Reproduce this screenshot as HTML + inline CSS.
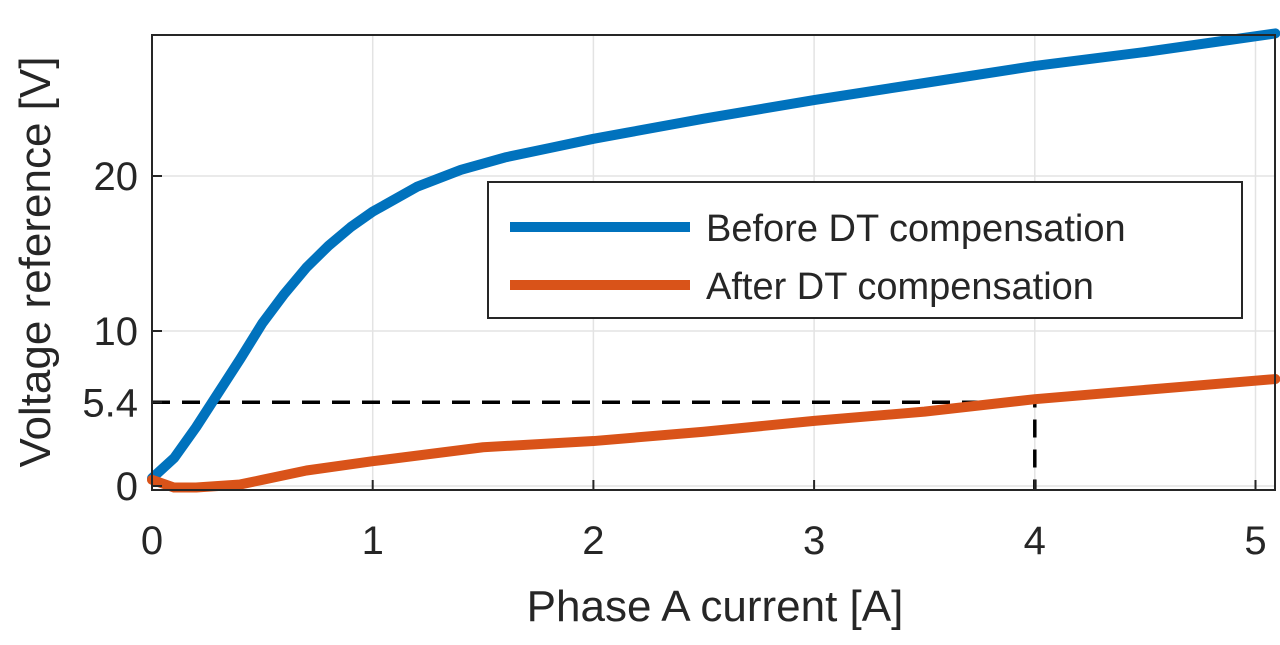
<!DOCTYPE html>
<html><head><meta charset="utf-8"><style>
body{margin:0;background:#fff;}
text{font-family:"Liberation Sans",sans-serif;fill:#262626;}
</style></head><body>
<svg id="chart" width="1280" height="640" viewBox="0 0 1280 640" xmlns="http://www.w3.org/2000/svg">
<g id="grid"></g>
<g id="series"></g>
<g id="axes"></g>
<text x="715" y="621" font-size="44" text-anchor="middle">Phase A current [A]</text>
<text transform="translate(50,262) rotate(-90)" font-size="44" text-anchor="middle">Voltage reference [V]</text>
<g>
<rect x="488" y="182" width="754" height="136" fill="#fff" stroke="#262626" stroke-width="2"/>
<line x1="510" y1="227" x2="690" y2="227" stroke="#0072BD" stroke-width="10"/>
<text x="706" y="241" font-size="38">Before DT compensation</text>
<line x1="510" y1="285" x2="690" y2="285" stroke="#D95319" stroke-width="10"/>
<text x="706" y="299" font-size="38">After DT compensation</text>
</g>
</svg>
<script>
const xTicks=[0,1,2,3,4,5];
const yTicks=[0,5.4,10,20];
const yTickLabels=["0","5.4","10","20"];
const yGrid=[0,10,20];
const beforeX=[0,0.1,0.2,0.3,0.4,0.5,0.6,0.7,0.8,0.9,1,1.2,1.4,1.6,1.8,2,2.5,3,3.5,4,4.5,5.09];
const beforeY=[0.5,1.8,3.8,6,8.2,10.5,12.4,14.1,15.5,16.7,17.7,19.3,20.4,21.2,21.8,22.4,23.7,24.9,26,27.1,28,29.2];
const afterX=[0,0.1,0.2,0.4,0.5,0.7,1,1.5,2,2.5,3,3.5,4,4.5,5.09];
const afterY=[0.4,-0.1,-0.1,0.1,0.4,1,1.6,2.5,2.9,3.5,4.2,4.8,5.6,6.2,6.9];
const refX=4, refY=5.4;
const L=152,R=1275,T=35,B=490;
const xs=v=>152+v*220.7;
const ys=v=>486-v*15.5;
const NS="http://www.w3.org/2000/svg";
function mk(tag,attrs,parent){const e=document.createElementNS(NS,tag);for(const k in attrs)e.setAttribute(k,attrs[k]);parent.appendChild(e);return e;}
const grid=document.getElementById('grid'),axes=document.getElementById('axes'),series=document.getElementById('series');
xTicks.forEach(t=>{
 const g=mk('line',{x1:xs(t),x2:xs(t),y1:T,y2:B,stroke:'#e3e3e3','stroke-width':1.5},grid);
 
 
 const tk=mk('line',{x1:xs(t),x2:xs(t),y1:B,y2:B-10,stroke:'#262626','stroke-width':2},axes);
 
 
 const tx=mk('text',{x:xs(t),y:554,'font-size':40,'text-anchor':'middle'},axes);tx.textContent=t;
 
 
});
yGrid.forEach(t=>{
 const g=mk('line',{x1:L,x2:R,y1:ys(t),y2:ys(t),stroke:'#e3e3e3','stroke-width':1.5},grid);
 
 
});
yTicks.forEach((t,i)=>{
 const tk=mk('line',{x1:L,x2:L+10,y1:ys(t),y2:ys(t),stroke:'#262626','stroke-width':2},axes);
 
 
 const tx=mk('text',{x:L-14,y:ys(t)+14,'font-size':40,'text-anchor':'end'},axes);tx.textContent=yTickLabels[i];
 
 
});
const box=mk('rect',{x:L,y:T,width:R-L,height:B-T,fill:'none',stroke:'#262626','stroke-width':2},axes);


const d1=mk('path',{d:`M${L} ${ys(refY)} H${xs(refX)} V${B}`,fill:'none',stroke:'#000','stroke-width':3.5,'stroke-dasharray':'18 12'},series);


function line(xa,ya,color,name){
 const p=mk('polyline',{points:xa.map((x,i)=>xs(x)+','+ys(ya[i])).join(' '),fill:'none',stroke:color,'stroke-width':10,'stroke-linejoin':'round','stroke-linecap':'round'},series);
 
 
}
line(beforeX,beforeY,'#0072BD','before-dt-line');
line(afterX,afterY,'#D95319','after-dt-line');
</script>
</body></html>
